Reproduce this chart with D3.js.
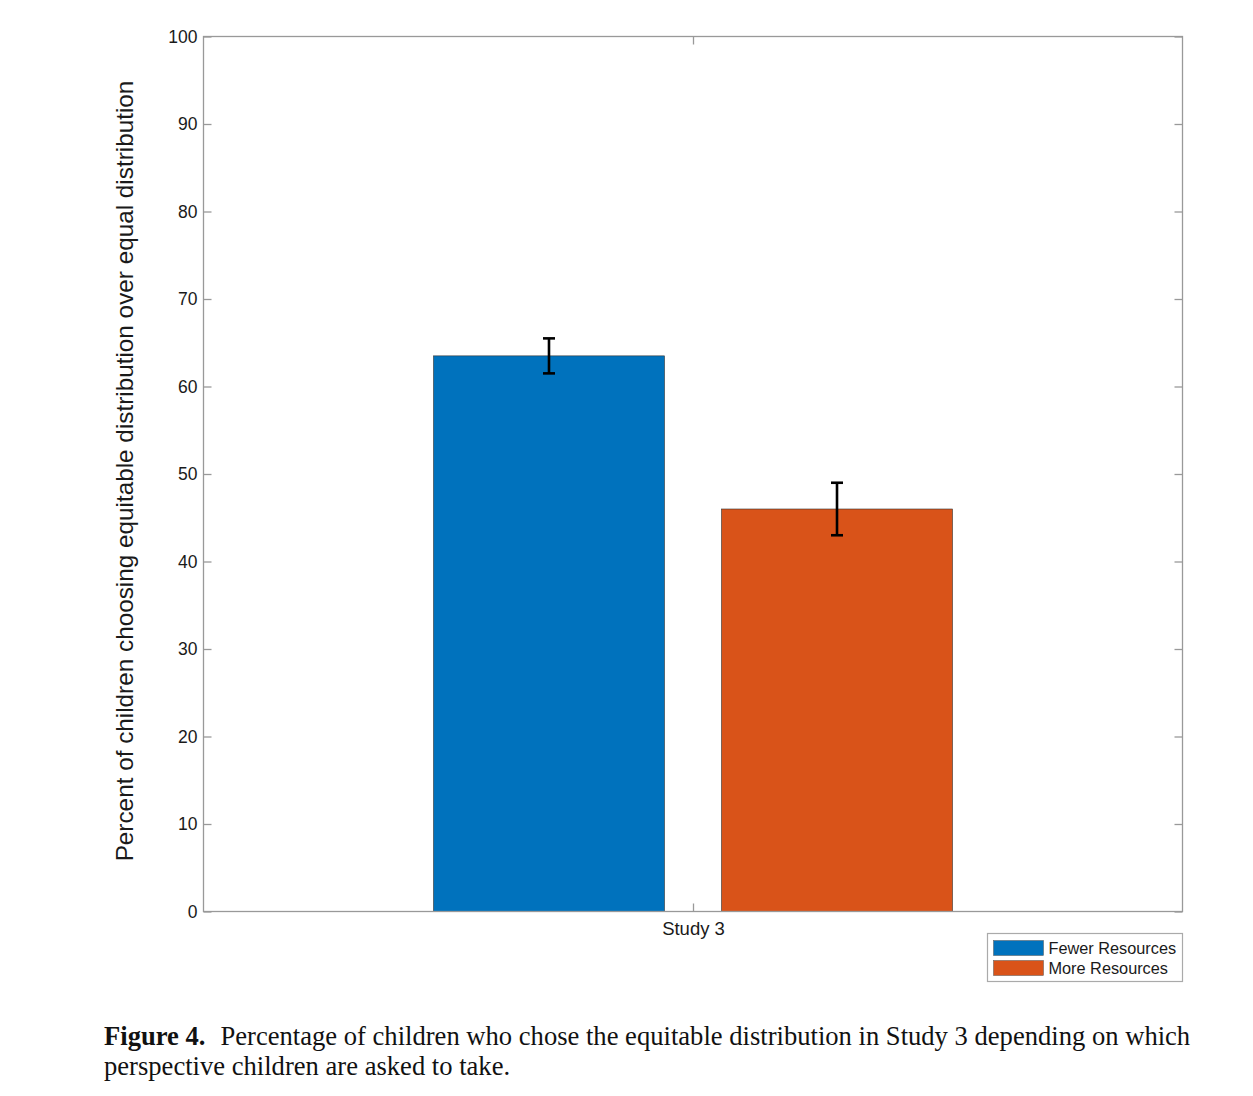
<!DOCTYPE html>
<html><head><meta charset="utf-8">
<script src="https://cdn.jsdelivr.net/npm/d3@7"></script>
<style>body{margin:0;background:#fff}svg{display:block}</style>
</head><body>
<script>
const categories = ["Study 3"];
const seriesNames = ["Fewer Resources", "More Resources"];
const seriesValues = [63.5, 46.0];
const seriesErrors = [2.0, 3.0];
const seriesColors = ["#0072BD", "#D95319"];
const yTicks = [0,10,20,30,40,50,60,70,80,90,100];
const yLabel = "Percent of children choosing equitable distribution over equal distribution";
const captionBold = "Figure 4.";
const captionLine1 = "Percentage of children who chose the equitable distribution in Study 3 depending on which";
const captionLine2 = "perspective children are asked to take.";

const W = 1253, H = 1096;
const m = {l: 203.5, r: 1182.5, t: 36.5, b: 911.5};
const svg = d3.select("body").append("svg").attr("width", W).attr("height", H);

const y = d3.scaleLinear().domain([0,100]).range([m.b, m.t]);
const xc = d3.scalePoint().domain(categories).range([m.l, m.r]).padding(0.5);
const groupHalf = 259.5;
const xs = d3.scaleBand().domain(seriesNames).range([-groupHalf, groupHalf]).paddingInner(0.198).paddingOuter(0);

const axisColor = "#999";
const textColor = "#1a1a1a";
const font = "'Liberation Sans', Arial, sans-serif";

// bars
categories.forEach((c) => {
  seriesNames.forEach((s, i) => {
    const bx = xc(c) + xs(s);
    svg.append("rect")
      .attr("x", bx).attr("y", y(seriesValues[i]))
      .attr("width", xs.bandwidth()).attr("height", y(0) - y(seriesValues[i]))
      .attr("fill", seriesColors[i]).attr("stroke", "#333").attr("stroke-width", 0.6);
  });
});

// frame
svg.append("rect").attr("x", m.l).attr("y", m.t).attr("width", m.r - m.l).attr("height", m.b - m.t)
  .attr("fill", "none").attr("stroke", axisColor).attr("stroke-width", 1.3);

// y axis left
const yAxis = d3.axisLeft(y).tickValues(yTicks).tickSize(-8).tickPadding(6).tickFormat(d3.format("d"));
const gy = svg.append("g").attr("transform", `translate(${m.l},0)`).call(yAxis);
gy.select(".domain").remove();
gy.selectAll(".tick line").attr("stroke", axisColor).attr("stroke-width", 1.3);
gy.selectAll(".tick text").attr("fill", textColor).style("font", `17.5px ${font}`);

// y axis right ticks
const gyr = svg.append("g").attr("transform", `translate(${m.r},0)`).call(d3.axisRight(y).tickValues(yTicks).tickSize(-8).tickFormat(""));
gyr.select(".domain").remove();
gyr.selectAll(".tick line").attr("stroke", axisColor).attr("stroke-width", 1.3);

// x axis bottom
const gx = svg.append("g").attr("transform", `translate(0,${m.b})`).call(d3.axisBottom(xc).tickSize(-8).tickPadding(10));
gx.select(".domain").remove();
gx.selectAll(".tick line").attr("stroke", axisColor).attr("stroke-width", 1.3);
gx.selectAll(".tick text").attr("fill", textColor).style("font", `18.5px ${font}`);
const gxt = svg.append("g").attr("transform", `translate(0,${m.t})`).call(d3.axisTop(xc).tickSize(-8).tickFormat(""));
gxt.select(".domain").remove();
gxt.selectAll(".tick line").attr("stroke", axisColor).attr("stroke-width", 1.3);

// error bars
categories.forEach((c) => {
  seriesNames.forEach((s, i) => {
    const cx = xc(c) + xs(s) + xs.bandwidth()/2;
    const lo = y(seriesValues[i] - seriesErrors[i]), hi = y(seriesValues[i] + seriesErrors[i]);
    const g = svg.append("g").attr("stroke", "#000").attr("stroke-width", 2.6);
    g.append("line").attr("x1", cx).attr("x2", cx).attr("y1", lo).attr("y2", hi);
    g.append("line").attr("x1", cx-6).attr("x2", cx+6).attr("y1", lo).attr("y2", lo);
    g.append("line").attr("x1", cx-6).attr("x2", cx+6).attr("y1", hi).attr("y2", hi);
  });
});

// y label
svg.append("text").attr("transform", `translate(133,${(m.t+m.b)/2 - 3}) rotate(-90)`)
  .attr("text-anchor", "middle").attr("fill", textColor).style("font", `24.3px ${font}`).text(yLabel);

// legend
const lg = svg.append("g").attr("transform", "translate(987.5,933.5)");
lg.append("rect").attr("width", 195).attr("height", 48).attr("fill", "#fff").attr("stroke", "#aaa").attr("stroke-width", 1.2);
seriesNames.forEach((s, i) => {
  lg.append("rect").attr("x", 6).attr("y", 7 + i*20).attr("width", 50).attr("height", 15)
    .attr("fill", seriesColors[i]).attr("stroke", "#555").attr("stroke-width", 0.5);
  lg.append("text").attr("x", 61).attr("y", 20.5 + i*20).attr("fill", textColor)
    .style("font", `16.3px ${font}`).text(s);
});

// caption
const serif = "'Liberation Serif', 'Times New Roman', serif";
const t1 = svg.append("text").attr("x", 104).attr("y", 1045).attr("fill", "#111").style("font", `26.6px ${serif}`);
t1.append("tspan").attr("font-weight", "bold").text(captionBold);
t1.append("tspan").attr("dx", 15).text(captionLine1);
svg.append("text").attr("x", 104).attr("y", 1075).attr("fill", "#111").style("font", `26.6px ${serif}`).text(captionLine2);
</script>
</body></html>
